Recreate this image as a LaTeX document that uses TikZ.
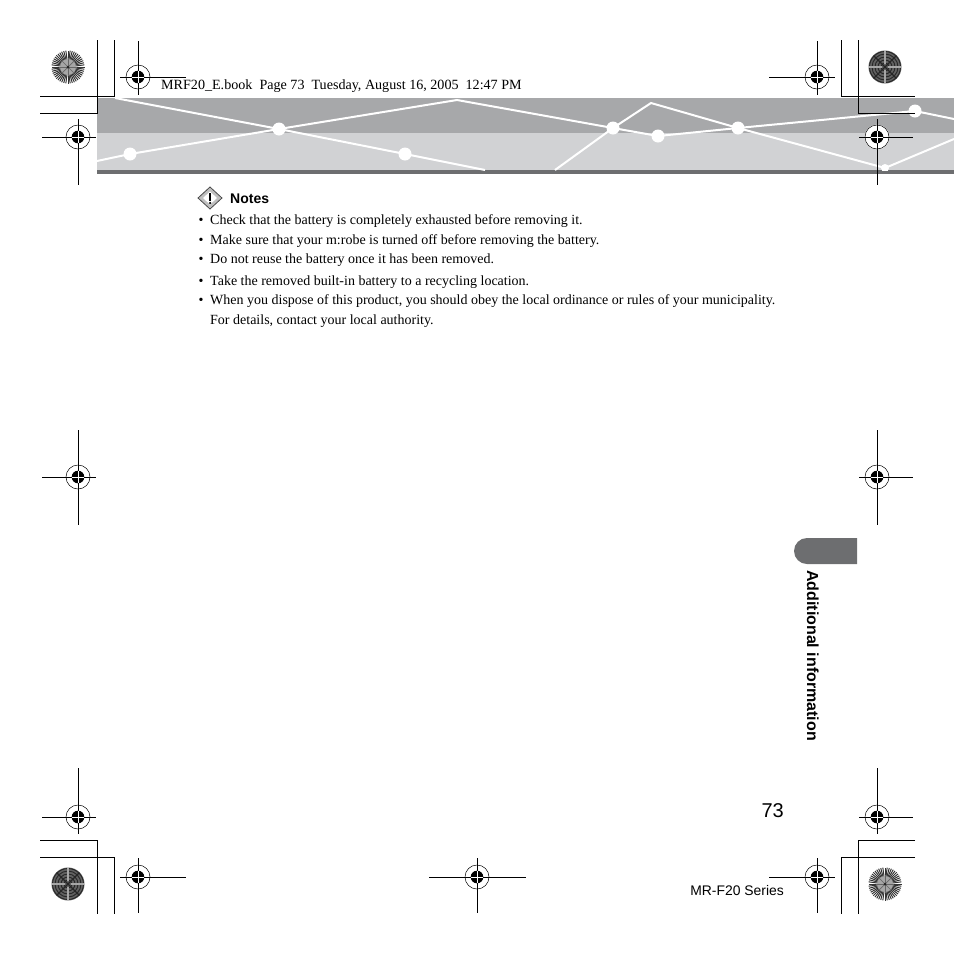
\documentclass[tikz,border=0pt]{standalone}
\usepackage{fontspec}
\setmainfont{Liberation Serif}
\setsansfont{Liberation Sans}
\definecolor{banddark}{HTML}{A7A8AA}
\definecolor{bandlight}{HTML}{D1D2D4}
\definecolor{tabgray}{HTML}{6D6E70}
\tikzset{
 crop/.style={black,line width=1pt},
 wline/.style={white,line width=2pt},
 wdot/.style={circle,fill=white,draw=none,minimum size=13pt,inner sep=0pt},
 body/.style={anchor=base west,inner sep=0pt,font=\fontsize{14}{14}\selectfont},
 bul/.style={anchor=base,inner sep=0pt,font=\fontsize{14}{14}\selectfont},
}
% registration mark: x, y, left, right, top, bottom
\newcommand{\regmark}[6]{%
 \fill[white] (#1,#2) circle (12.5);
 \draw[black,line width=0.5pt] (#1,#2) circle (12);
 \fill[black] (#1,#2) circle (6.3);
 \draw[black,line width=1pt] (#3,#2) -- (#4,#2) (#1,#5) -- (#1,#6);
 \draw[white,line width=0.4pt] (#1-6.3,#2) -- (#1+6.3,#2) (#1,#2-6.3) -- (#1,#2+6.3);
}
% sunburst: x, y
\newcommand{\burst}[2]{%
 \fill[white] (#1,#2) circle (16.5);
 \foreach \a in {0,7.5,...,352.5}{\draw[black!80,line width=1pt] (#1,#2) -- ++(\a:16.5);}
 \fill[black!35] (#1,#2) circle (8);
 \foreach \a in {0,45,...,315}{\draw[black!60,line width=0.7pt] (#1,#2) -- ++(\a:9);}
 \fill[black!85] (#1,#2) circle (1.5);
}
\newcommand{\moire}[2]{%
 \fill[black!62] (#1,#2) circle (16.5);
 \foreach \r in {4,7,10,13,15.5}{\draw[black!85,line width=0.9pt] (#1,#2) circle (\r);}
 \foreach \a in {0,90,180,270}{\draw[black!35,line width=2.2pt] (#1,#2) ++(\a:3) -- ++(\a:13);}
 \foreach \a in {45,135,225,315}{\draw[black!85,line width=1.2pt] (#1,#2) -- ++(\a:16);}
}
\begin{document}
\begin{tikzpicture}[x=1pt,y=-1pt]
\useasboundingbox (0,0) rectangle (954,954);
% band
\fill[banddark] (97,98) rectangle (954,133);
\fill[bandlight] (97,133) rectangle (954,170);
\fill[tabgray] (97,170) rectangle (954,174);
\begin{scope}
\clip (97,98) rectangle (954,170);
\coordinate (a1) at (115,98); \coordinate (a2) at (279,129); \coordinate (a3) at (405,154); \coordinate (a4) at (485,170);
\coordinate (b1) at (97,161); \coordinate (b2) at (130,154); \coordinate (b3) at (457,100); \coordinate (b4) at (613,128);
\coordinate (b5) at (658,136); \coordinate (b6) at (738,128); \coordinate (b7) at (915,111); \coordinate (b8) at (954,119);
\coordinate (c1) at (555,170); \coordinate (c2) at (651,103); \coordinate (c3) at (885,168); \coordinate (c4) at (954,139);
\draw[wline] (a1) -- (a2) -- (a3) -- (a4);
\draw[wline] (b1) -- (b2) -- (a2) -- (b3) -- (b4) -- (b5) -- (b6) -- (b7) -- (b8);
\draw[wline] (c1) -- (b4) -- (c2) -- (b6) -- (c3) -- (c4);
\node[wdot] at (b2) {}; \node[wdot] at (a2) {}; \node[wdot] at (a3) {};
\node[wdot] at (b4) {}; \node[wdot] at (b5) {}; \node[wdot] at (b6) {}; \node[wdot] at (b7) {};
\node[wdot,minimum size=8pt] at (c3) {};
\end{scope}
% crop marks
\draw[crop] (97,40) -- (97,113) -- (40,113);
\draw[crop] (114,40) -- (114,96) -- (40,96);
\draw[crop] (841,40) -- (841,96) -- (915,96);
\draw[crop] (858,40) -- (858,113) -- (915,113);
\draw[crop] (40,840) -- (97,840) -- (97,914);
\draw[crop] (40,857) -- (114,857) -- (114,914);
\draw[crop] (915,840) -- (858,840) -- (858,914);
\draw[crop] (915,857) -- (841,857) -- (841,914);
% registration marks
\regmark{138}{77}{120}{186}{41}{95}
\regmark{78}{137}{42}{96}{119}{185}
\regmark{817}{77}{769}{835}{41}{95}
\regmark{877}{137}{859}{913}{119}{185}
\regmark{78}{477}{42}{96}{430}{525}
\regmark{877}{477}{859}{913}{430}{525}
\regmark{78}{817}{42}{96}{768}{834}
\regmark{877}{817}{859}{913}{768}{834}
\regmark{138}{877}{120}{186}{858}{913}
\regmark{477}{877}{429}{526}{858}{913}
\regmark{817}{877}{769}{835}{858}{913}
% sunbursts
\burst{68}{67}
\burst{885}{884}
\moire{885}{67}
\moire{68}{884}
% header
\node[anchor=base west,inner sep=0pt,font=\fontsize{14.1}{14}\selectfont] (hdr) at (161,89) {MRF20\_E.book\ \ Page 73\ \ Tuesday, August 16, 2005\ \ 12:47 PM};
% notes icon
\draw[black!70,fill=black!25,line width=0.8pt] (198,198) -- (210,187) -- (222,198) -- (210,209) -- cycle;
\fill[white] (203,198) -- (210,191.5) -- (217,198) -- (210,204.5) -- cycle;
\fill[black] (209,192.5) rectangle (211.2,200.5);
\fill[black] (210.1,203) circle (1.2);
\node[anchor=base west,inner sep=0pt,font=\sffamily\bfseries\fontsize{14}{14}\selectfont] (notes) at (230,203) {Notes};
% body
\foreach \yy/\txt in {224/Check that the battery is completely exhausted before removing it.,
 244/Make sure that your m:robe is turned off before removing the battery.,
 263/Do not reuse the battery once it has been removed.,
 285/Take the removed built-in battery to a recycling location.,
 304/{When you dispose of this product, you should obey the local ordinance or rules of your municipality.}}{
 \node[bul] at (201,\yy) {•};
 \node[body] at (210,\yy) {\txt};
}
\node[body] (last) at (210,324) {For details, contact your local authority.};
% tab
\fill[tabgray] (857,538) -- (807,538) arc[start angle=90,end angle=270,radius=13pt] -- (857,564) -- cycle;
\node[rotate=-90,anchor=base west,inner sep=0pt,font=\sffamily\bfseries\fontsize{16}{16}\selectfont] (side) at (807,570) {Additional information};
% page no
\node[anchor=base east,inner sep=0pt,font=\sffamily\fontsize{20}{20}\selectfont] (page) at (784,817) {73};
\node[anchor=base east,inner sep=0pt,font=\sffamily\fontsize{13.9}{14}\selectfont] (series) at (784,895) {MR-F20 Series};
\end{tikzpicture}
\end{document}
